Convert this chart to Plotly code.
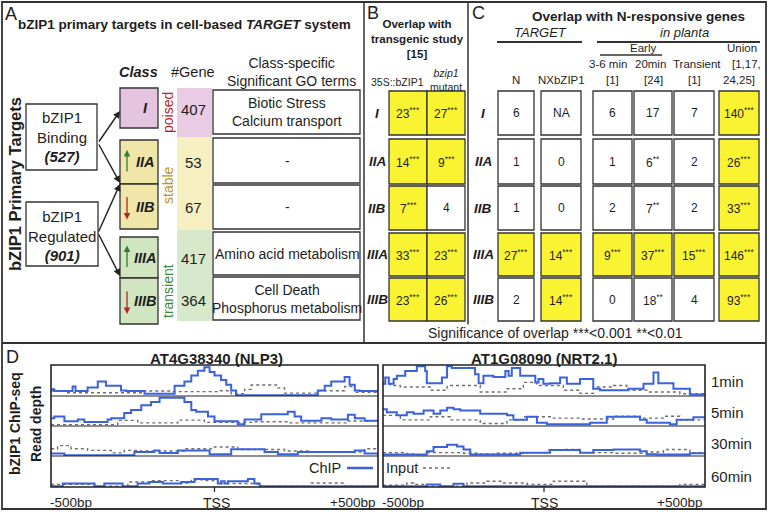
import plotly.graph_objects as go

W, H = 769, 512
FONT = "Liberation Sans, Arial, sans-serif"
BLUE = "#3b62de"
GREY = "#6e6e6e"
YEL = "#faf332"

# ---------------- data ----------------
classes = ["I", "IIA", "IIB", "IIIA", "IIIB"]
class_arrows = [None, "up", "down", "up", "down"]
class_groups = ["poised", "stable", "transient"]
gene_counts = [407, 53, 67, 417, 364]
go_terms = ["Biotic Stress<br>Calcium transport", "-", "-",
            "Amino acid metabolism", "Cell Death<br>Phosphorus metabolism"]

b_values = [["23***", "27***"], ["14***", "9***"], ["7***", "4"],
            ["33***", "23***"], ["23***", "26***"]]

c_head_top = ["3-6 min", "20min", "Transient", "[1,17,"]
c_head_bottom = ["N", "NXbZIP1", "[1]", "[24]", "[1]", "24,25]"]
c_values = [
    ["6", "NA", "6", "17", "7", "140***"],
    ["1", "0", "1", "6**", "2", "26***"],
    ["1", "0", "2", "7**", "2", "33***"],
    ["27***", "14***", "9***", "37***", "15***", "146***"],
    ["2", "14***", "0", "18**", "4", "93***"],
]

genes = ["AT4G38340 (NLP3)", "AT1G08090 (NRT2.1)"]
times = ["1min", "5min", "30min", "60min"]

# read depth tracks (bp from TSS, relative depth)
nlp3_chip_x = [
    [-500, -490, -434, -425, -388, -357, -332, -286, -270, -214, -122, -92, -71, -51, -31, -15, 0, 20, 36, 51, 66, 316, 337, 357, 398, 413, 429, 444, 500],
    [-500, -490, -459, -418, -398, -327, -316, -276, -255, -224, -194, -168, -92, -71, -56, -20, 0, 71, 92, 143, 224, 245, 265, 327, 357, 408, 429, 459, 500],
    [-500, -459, -245, -184, -168, -112, -15, 51, 153, 194, 255, 429, 459, 500],
    [-500, -464, -367, -337, -281, -235, -199, -158, -102, -61, 10, 20, 31, 41, 102, 122, 138, 500],
]
nlp3_chip_y = [
    [0.2, 0.14, 0.3, 0.14, 0.26, 0.47, 0.32, 0.16, 0.14, 0.05, 0.32, 0.47, 0.68, 0.84, 0.96, 0.8, 0.68, 0.52, 0.36, 0.16, 0.0, 0.16, 0.32, 0.47, 0.63, 0.36, 0.16, 0.14, 0.14],
    [0.25, 0.31, 0.14, 0.2, 0.11, 0.2, 0.25, 0.43, 0.54, 0.71, 0.83, 0.98, 0.83, 0.54, 0.48, 0.31, 0.14, 0.03, 0.2, 0.39, 0.48, 0.31, 0.16, 0.25, 0.2, 0.37, 0.25, 0.16, 0.16],
    [0.06, 0.0, 0.11, 0.17, 0.08, 0.17, 0.03, 0.21, 0.11, 0.03, 0.11, 0.17, 0.06, 0.06],
    [0.0, 0.09, 0.0, 0.09, 0.0, 0.09, 0.14, 0.09, 0.14, 0.25, 0.09, 0.17, 0.09, 0.17, 0.25, 0.09, 0.0, 0.0],
]
nlp3_input_x = [
    [-500, -449, -214, -133, 10, 51, 92, 112, 194, 214, 316, 398, 429, 500],
    [-500, -296, -235, -112, -31, 122, 224, 408, 500],
    [-500, -480, -439, -388, -316, -276, -235, -92, -10, 71, 214, 296, 459, 500],
    [-500, -367, -265, -194, -102, -71, -31, 10, 133, 296, 398, 500],
]
nlp3_input_y = [
    [0.15, 0.08, 0.14, 0.12, 0.15, 0.05, 0.2, 0.35, 0.25, 0.07, 0.15, 0.3, 0.1, 0.1],
    [0.02, 0.17, 0.08, 0.18, 0.1, 0.12, 0.08, 0.15, 0.1],
    [0.23, 0.34, 0.23, 0.17, 0.08, 0.17, 0.15, 0.23, 0.29, 0.2, 0.15, 0.11, 0.23, 0.23],
    [0.06, 0.0, 0.14, 0.19, 0.11, 0.22, 0.19, 0.09, 0.0, 0.11, 0.0, 0.0],
]
nrt21_chip_x = [
    [-500, -493, -482, -467, -457, -431, -395, -369, -364, -317, -301, -286, -214, -203, -188, -157, -120, -110, -100, -74, -27, -17, -2, 19, 50, 71, 112, 153, 174, 262, 309, 340, 355, 402, 453, 500],
    [-500, -488, -457, -426, -405, -374, -343, -322, -301, -281, -260, -198, -115, -95, -53, -22, 9, 143, 195, 298, 319, 391, 412, 464, 500],
    [-500, -364, -343, -301, -270, -250, -229, -74, 19, 112, 153, 216, 298, 319, 350, 453, 500],
    [-500, -364, -322, -281, -250, 500],
]
nrt21_chip_y = [
    [0.39, 0.61, 0.39, 0.56, 0.67, 0.83, 1.0, 0.83, 0.41, 0.61, 1.0, 0.94, 0.72, 0.41, 0.67, 0.63, 0.83, 0.67, 0.94, 0.67, 0.44, 0.56, 0.39, 0.41, 0.61, 0.39, 0.56, 0.22, 0.17, 0.22, 0.39, 0.78, 0.41, 0.22, 0.02, 0.02],
    [0.57, 0.46, 0.35, 0.46, 0.41, 0.52, 0.41, 0.52, 0.62, 0.57, 0.52, 0.41, 0.35, 0.19, 0.3, 0.09, 0.03, 0.09, 0.3, 0.19, 0.09, 0.03, 0.19, 0.28, 0.28],
    [0.02, 0.14, 0.29, 0.37, 0.31, 0.2, 0.02, 0.09, 0.18, 0.09, 0.18, 0.2, 0.14, 0.03, 0.02, 0.07, 0.07],
    [0.0, 0.06, 0.0, 0.08, 0.0, 0.0],
]
nrt21_input_x = [
    [-500, -477, -446, -353, -301, -198, -115, -64, -22, 60, 112, 153, 216, 257, 319, 422, 500],
    [-500, -446, -353, -291, -198, -115, -64, 29, 112, 216, 298, 371, 422, 500],
    [-500, -426, -405, -364, -250, -198, -146, -53, 9, 60, 112, 216, 319, 371, 453, 500],
    [-500, -426, -405, -364, -239, -177, -126, -53, 29, 133, 422, 500],
]
nrt21_input_y = [
    [0.39, 0.33, 0.28, 0.17, 0.33, 0.11, 0.22, 0.44, 0.33, 0.17, 0.06, 0.28, 0.33, 0.17, 0.11, 0.05, 0.05],
    [0.35, 0.19, 0.3, 0.19, 0.06, 0.19, 0.3, 0.25, 0.22, 0.32, 0.25, 0.32, 0.19, 0.19],
    [0.09, 0.04, 0.02, 0.09, 0.07, 0.04, 0.07, 0.09, 0.18, 0.2, 0.09, 0.07, 0.11, 0.2, 0.09, 0.09],
    [0.03, 0.11, 0.06, 0.0, 0.11, 0.17, 0.11, 0.06, 0.17, 0.0, 0.06, 0.06],
]


# ---------------- helpers ----------------
def X(p):
    return p / W


def Y(p):
    return 1 - p / H


shapes = []
annotations = []


def rect(x0, y0, x1, y1, fill=None, lw=1.2, color="#333"):
    shapes.append(dict(type="rect", xref="paper", yref="paper",
                       x0=X(x0), x1=X(x1), y0=Y(y1), y1=Y(y0),
                       line=dict(color=color, width=lw),
                       fillcolor=fill if fill else "rgba(0,0,0,0)"))


def line(x0, y0, x1, y1, lw=1.2, color="#333", dash=None):
    shapes.append(dict(type="line", xref="paper", yref="paper",
                       x0=X(x0), x1=X(x1), y0=Y(y0), y1=Y(y1),
                       line=dict(color=color, width=lw, dash=dash)))


def text(x, y, s, size=12, color="#1e1e1e", xanchor="center", angle=0, bg=None):
    annotations.append(dict(x=X(x), y=Y(y), xref="paper", yref="paper", text=s,
                            showarrow=False, xanchor=xanchor, yanchor="middle",
                            textangle=angle, bgcolor=bg, borderpad=0,
                            font=dict(family=FONT, size=size, color=color)))


def arrow(x0, y0, x1, y1, color="#222", w=1.4):
    annotations.append(dict(x=X(x1), y=Y(y1), xref="paper", yref="paper", text="",
                            showarrow=True, ax=x0 - x1, ay=y0 - y1,
                            arrowhead=2, arrowsize=1, arrowwidth=w, arrowcolor=color))


def cell_txt(v):
    num = v.rstrip("*")
    stars = v[len(num):]
    return num + (f"<sup>{stars}</sup>" if stars else "")


# ---------------- frame ----------------
rect(2, 2, 766, 509, lw=1.8)
line(2, 343, 766, 343, lw=1.8)
line(364, 2, 364, 343, lw=1.5)
line(468, 2, 468, 343, lw=1.5)

# ---------------- panel A ----------------
text(4, 14, "A", size=18, xanchor="left")
text(17, 24, "<b>bZIP1 primary targets in cell-based <i>TARGET</i> system</b>", size=13.5, xanchor="left")
text(15, 184, "<b>bZIP1 Primary Targets</b>", size=16.5, angle=-90)

rect(26, 104, 97, 170, lw=1.3)
text(62, 137, "bZIP1<br>Binding<br><b><i>(527)</i></b>", size=15)
rect(26, 202, 98, 266, lw=1.3)
text(62, 236, "bZIP1<br>Regulated<br><b><i>(901)</i></b>", size=15)
arrow(98, 143, 120, 111)
arrow(98, 143, 120, 183)
arrow(98, 233, 120, 184)
arrow(98, 233, 120, 276)

text(138, 72, "<b><i>Class</i></b>", size=14.5)
text(193, 72, "#Gene", size=14.5)
text(291, 72, "Class-specific<br>Significant GO terms", size=14)

class_top = [88, 140, 184, 237, 278]
class_bot = [128, 184, 229, 278, 324]
class_fill = ["#e5c4df", "#efe6a8", "#efe6a8", "#d2e5c1", "#d2e5c1"]
for i, c in enumerate(classes):
    rect(120, class_top[i], 158, class_bot[i], fill=class_fill[i], lw=1.3)
    text(145, (class_top[i] + class_bot[i]) / 2, f"<b><i>{c}</i></b>", size=14.5)
    mid = (class_top[i] + class_bot[i]) / 2
    if class_arrows[i] == "up":
        arrow(127, mid + 11, 127, mid - 12, color="#2f7d32", w=1.3)
    elif class_arrows[i] == "down":
        arrow(127, mid - 11, 127, mid + 13, color="#b3262b", w=1.3)

# gene count column
group_span = [(88, 137), (137, 230), (230, 321)]
group_fill = ["#e9cbe4", "#f6efbf", "#d8e9cb"]
group_color = ["#b8252b", "#b8962e", "#3b8a3b"]
group_mid = [113, 185, 291]
for g, name in enumerate(class_groups):
    rect(177, group_span[g][0], 212, group_span[g][1], fill=group_fill[g], lw=0, color=group_fill[g])
    text(168, group_mid[g], name, size=14, color=group_color[g], angle=-90)
gene_y = [109, 162, 207, 258, 300]
for i, n in enumerate(gene_counts):
    text(193, gene_y[i], str(n), size=15)

row_top = [90, 138, 185, 232, 277]
row_bot = [134, 183, 229, 275, 320]
for i, t in enumerate(go_terms):
    rect(213, row_top[i], 360, row_bot[i], lw=1.3)
    text(287, (row_top[i] + row_bot[i]) / 2, t, size=14)

# ---------------- panel B ----------------
text(366, 13, "B", size=18, xanchor="left")
text(417, 39, "<b>Overlap with<br>transgenic study<br>[15]</b>", size=11.5)
text(397, 82, "35S::bZIP1", size=10.5)
text(446, 80, "<i>bzip1</i><br>mutant", size=10.5)
b_x = [389, 427, 465]
for i, row in enumerate(b_values):
    text(377, (row_top[i] + row_bot[i]) / 2 + 1, f"<b><i>{classes[i]}</i></b>", size=13.5)
    for j, v in enumerate(row):
        fill = YEL if v.endswith("***") else "white"
        rect(b_x[j], row_top[i] + 1, b_x[j + 1], row_bot[i] + 1, fill=fill, lw=1.3)
        text((b_x[j] + b_x[j + 1]) / 2, (row_top[i] + row_bot[i]) / 2 + 1, cell_txt(v), size=12)

# ---------------- panel C ----------------
text(471, 13, "C", size=18, xanchor="left")
text(638, 16, "<b>Overlap with N-responsive genes</b>", size=13.5)
text(540, 32, "<i>TARGET</i>", size=13)
text(684, 32, "<i>in planta</i>", size=13)
line(497, 42, 582, 42, lw=1.8)
line(597, 42, 760, 42, lw=1.8)
text(643, 48, "Early", size=11.5)
line(600, 55, 662, 55, lw=1.5)
text(742, 48, "Union", size=11.5)
c_top_x = [608, 650, 697, 746]
for k, s in enumerate(c_head_top):
    text(c_top_x[k], 64, s, size=11.5)
c_x0 = [497, 540, 592, 633, 673, 718]
c_x1 = [535, 582, 633, 673, 715, 760]
for k, s in enumerate(c_head_bottom):
    text((c_x0[k] + c_x1[k]) / 2, 80, s, size=11.5)
for i, row in enumerate(c_values):
    text(483, (row_top[i] + row_bot[i]) / 2 + 1, f"<b><i>{classes[i]}</i></b>", size=13.5)
    for j, v in enumerate(row):
        fill = YEL if v.endswith("***") else "white"
        rect(c_x0[j] + 1, row_top[i] + 1, c_x1[j] - 1, row_bot[i] + 1, fill=fill, lw=1.3)
        text((c_x0[j] + c_x1[j]) / 2, (row_top[i] + row_bot[i]) / 2 + 1, cell_txt(v), size=12)

text(555, 333, "Significance of overlap ***&lt;0.001 **&lt;0.01", size=14, bg="white")

# ---------------- panel D ----------------
text(5, 357, "D", size=18, xanchor="left")
text(15, 424, "<b>bZIP1 ChIP-seq</b>", size=14, angle=-90)
text(36, 424, "<b>Read depth</b>", size=14, angle=-90)

box_x = [(51, 378), (383, 705)]
track_edges = [365, 396, 426, 456, 487]
gene_center = [217, 544]
fig = go.Figure()
layout_axes = {}
all_chip_x = [nlp3_chip_x, nrt21_chip_x]
all_chip_y = [nlp3_chip_y, nrt21_chip_y]
all_inp_x = [nlp3_input_x, nrt21_input_x]
all_inp_y = [nlp3_input_y, nrt21_input_y]
k = 0
for g in range(2):
    text(gene_center[g], 358, f"<b>{genes[g]}</b>", size=15)
    for t in range(4):
        k += 1
        sfx = "" if k == 1 else str(k)
        layout_axes[f"xaxis{sfx}"] = dict(domain=[X(box_x[g][0]), X(box_x[g][1])], range=[-500, 500],
                                          visible=False, anchor=f"y{sfx}")
        layout_axes[f"yaxis{sfx}"] = dict(domain=[Y(track_edges[t + 1]), Y(track_edges[t])],
                                          range=[-0.03, 1.04], visible=False, anchor=f"x{sfx}")
        fig.add_trace(go.Scatter(x=all_inp_x[g][t], y=all_inp_y[g][t], mode="lines",
                                 line=dict(shape="hv", color=GREY, width=1.4, dash="dot"),
                                 xaxis=f"x{sfx}", yaxis=f"y{sfx}", showlegend=False))
        fig.add_trace(go.Scatter(x=all_chip_x[g][t], y=all_chip_y[g][t], mode="lines",
                                 line=dict(shape="hv", color=BLUE, width=2),
                                 xaxis=f"x{sfx}", yaxis=f"y{sfx}", showlegend=False))
        if t < 3:
            line(box_x[g][0], track_edges[t + 1], box_x[g][1], track_edges[t + 1], lw=1.2, color="#222")
        else:
            # TSS tick on the bottom track
            shapes.append(dict(type="line", xref=f"x{sfx}", yref="paper", x0=0, x1=0,
                               y0=Y(track_edges[4] + 5), y1=Y(track_edges[4]),
                               line=dict(color="#222", width=1.2)))
    rect(box_x[g][0], track_edges[0], box_x[g][1], track_edges[4], lw=1.6, color="#222")
    text(box_x[g][0] + 20, 502, "-500bp", size=13.5)
    text(gene_center[g], 503, "TSS", size=14)
    text(box_x[g][1] - 26, 502, "+500bp", size=13.5)

time_y = [381, 412, 443, 476]
for t, s in enumerate(times):
    text(710, time_y[t], s, size=15, xanchor="left")

# legend
text(342, 468, "ChIP", size=14.5, xanchor="right")
line(347, 468, 373, 468, lw=2.5, color=BLUE)
text(385, 468, "Input", size=14.5, xanchor="left")
line(423, 468, 450, 468, lw=1.5, color=GREY, dash="dot")

fig.update_layout(
    width=W, height=H,
    margin=dict(l=0, r=0, t=0, b=0),
    paper_bgcolor="white", plot_bgcolor="white",
    shapes=shapes, annotations=annotations,
    **layout_axes,
)

# page body margin would shift the figure by 8px inside the 769x512 window
fig.write_html("out.html", config={"displayModeBar": False},
               post_script="document.body.style.margin='0';")
